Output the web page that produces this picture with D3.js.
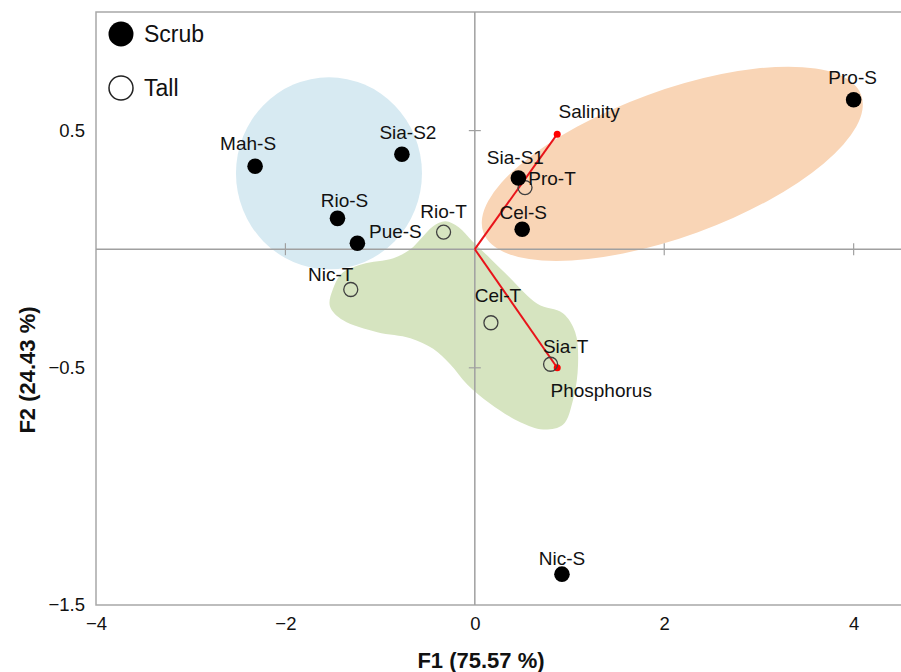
<!DOCTYPE html>
<html>
<head>
<meta charset="utf-8">
<script src="https://cdn.jsdelivr.net/npm/d3@7"></script>
<style>
  body { margin: 0; background: #fff; }
  text { font-family: "Liberation Sans", Arial, sans-serif; fill: #111; }
</style>
</head>
<body>
<svg id="chart" width="901" height="672"></svg>
<script>
// ---- data ----
const scrubNames = ["Mah-S", "Sia-S2", "Rio-S", "Pue-S", "Sia-S1", "Cel-S", "Pro-S", "Nic-S"];
const scrubF1 = [-2.32, -0.77, -1.45, -1.24, 0.46, 0.50, 4.00, 0.92];
const scrubF2 = [0.35, 0.40, 0.13, 0.025, 0.30, 0.084, 0.63, -1.37];

const tallNames = ["Rio-T", "Nic-T", "Pro-T", "Cel-T", "Sia-T"];
const tallF1 = [-0.33, -1.31, 0.53, 0.17, 0.80];
const tallF2 = [0.072, -0.17, 0.26, -0.31, -0.485];

const vectorNames = ["Salinity", "Phosphorus"];
const vectorF1 = [0.87, 0.87];
const vectorF2 = [0.485, -0.50];

const xTickValues = [-4, -2, 0, 2, 4];
const yTickValues = [-1.5, -0.5, 0.5];

// green group outline (data units)
const greenF1 = [-0.44, -0.31, -0.17, -0.026, 0.16, 0.37, 0.66, 0.93, 1.06, 1.09, 1.04, 0.93, 0.72, 0.48, 0.16, -0.08, -0.26, -0.44, -0.68, -1.03, -1.39, -1.53, -1.50, -1.40, -1.19, -0.86, -0.68, -0.575];
const greenF2 = [0.097, 0.118, 0.093, 0.034, -0.038, -0.12, -0.23, -0.27, -0.35, -0.485, -0.63, -0.74, -0.76, -0.73, -0.65, -0.57, -0.485, -0.42, -0.375, -0.35, -0.30, -0.24, -0.17, -0.10, -0.063, -0.038, 0.0, 0.042];
// blue and orange group centres (data units)
const blueCentre = [-1.54, 0.32];
const orangeCentre = [2.085, 0.36];

// ---- layout ----
const W = 901, H = 672;
const mLeft = 96, mRight = 901, mTop = 12, mBottom = 605;

const svg = d3.select("#chart");

const x = d3.scaleLinear().domain([-4, 4.5]).range([mLeft, mRight]);
const y = d3.scaleLinear().domain([-1.5, 1.0]).range([mBottom, mTop]);

// label offsets in pixels (dx, dy of label centre)
const labelOffset = {
  "Mah-S": [-7, -23], "Sia-S2": [6, -22], "Rio-S": [7, -18], "Pue-S": [38, -12],
  "Sia-S1": [-3, -21], "Cel-S": [1, -17], "Pro-S": [-1, -22], "Nic-S": [0, -16],
  "Rio-T": [0, -21], "Nic-T": [-20, -15], "Pro-T": [27, -9], "Cel-T": [7, -27],
  "Sia-T": [15, -18], "Salinity": [32, -23], "Phosphorus": [44, 23]
};

// ---- group shapes ----
const greenPts = greenF1.map((v, i) => [x(v), y(greenF2[i])]);
svg.append("path")
  .attr("d", d3.line().curve(d3.curveCatmullRomClosed.alpha(0.5))(greenPts))
  .attr("fill", "#d6e4c0");

svg.append("ellipse")
  .attr("cx", x(blueCentre[0])).attr("cy", y(blueCentre[1]))
  .attr("rx", 93).attr("ry", 96)
  .attr("fill", "#d7eaf2");

svg.append("ellipse")
  .attr("cx", 0).attr("cy", 0)
  .attr("rx", 201).attr("ry", 73)
  .attr("transform", `translate(${x(orangeCentre[0])},${y(orangeCentre[1])}) rotate(-20)`)
  .attr("fill", "#f9d5b6");

// ---- frame ----
svg.append("path")
  .attr("d", `M${mRight + 2},${mTop}H${mLeft}V${mBottom}H${mRight + 2}`)
  .attr("fill", "none").attr("stroke", "#a8a8a8").attr("stroke-width", 1.5);

// centre lines with crossing tick marks
const gray = "#a0a0a0";
svg.append("line").attr("x1", mLeft).attr("x2", mRight).attr("y1", y(0)).attr("y2", y(0))
  .attr("stroke", gray).attr("stroke-width", 1.5);
svg.append("line").attr("x1", x(0)).attr("x2", x(0)).attr("y1", mTop).attr("y2", mBottom)
  .attr("stroke", gray).attr("stroke-width", 1.5);

svg.selectAll(".xcross").data(xTickValues.filter(d => d !== 0 && d !== -4)).join("line")
  .attr("x1", d => x(d)).attr("x2", d => x(d))
  .attr("y1", y(0) - 6).attr("y2", y(0) + 6)
  .attr("stroke", gray).attr("stroke-width", 1.2);
svg.selectAll(".ycross").data(yTickValues.filter(d => d !== -1.5)).join("line")
  .attr("x1", x(0) - 6).attr("x2", x(0) + 6)
  .attr("y1", d => y(d)).attr("y2", d => y(d))
  .attr("stroke", gray).attr("stroke-width", 1.2);

// tick labels via d3 axes (no lines)
const fmt = d => d3.format("")(d).replace("-", "\u2212");
const xAxis = svg.append("g")
  .attr("transform", `translate(0,${mBottom})`)
  .call(d3.axisBottom(x).tickValues(xTickValues).tickSize(0).tickPadding(12).tickFormat(fmt));
const yAxis = svg.append("g")
  .attr("transform", `translate(${mLeft},0)`)
  .call(d3.axisLeft(y).tickValues(yTickValues).tickSize(0).tickPadding(11).tickFormat(fmt));
[xAxis, yAxis].forEach(g => {
  g.select(".domain").remove();
  g.attr("font-size", null).attr("font-family", null);
  g.selectAll("text").attr("font-size", 18.5).attr("fill", "#111");
});

// axis titles
svg.append("text").attr("x", 481).attr("y", 668).attr("text-anchor", "middle")
  .attr("font-size", 22).attr("font-weight", "bold").text("F1 (75.57 %)");
svg.append("text").attr("transform", "translate(35,370) rotate(-90)").attr("text-anchor", "middle")
  .attr("font-size", 22).attr("font-weight", "bold").text("F2 (24.43 %)");

// ---- variable vectors ----
const vectors = vectorNames.map((n, i) => ({ name: n, f1: vectorF1[i], f2: vectorF2[i] }));
svg.selectAll(".vec").data(vectors).join("line")
  .attr("x1", x(0)).attr("y1", y(0))
  .attr("x2", d => x(d.f1)).attr("y2", d => y(d.f2))
  .attr("stroke", "#e8141a").attr("stroke-width", 2);
svg.selectAll(".vecdot").data(vectors).join("circle")
  .attr("cx", d => x(d.f1)).attr("cy", d => y(d.f2)).attr("r", 3.5)
  .attr("fill", "#ff0000");

// ---- points ----
const scrub = scrubNames.map((n, i) => ({ name: n, f1: scrubF1[i], f2: scrubF2[i] }));
const tall = tallNames.map((n, i) => ({ name: n, f1: tallF1[i], f2: tallF2[i] }));

svg.selectAll(".tall").data(tall).join("circle")
  .attr("cx", d => x(d.f1)).attr("cy", d => y(d.f2)).attr("r", 7)
  .attr("fill", "none").attr("stroke", "#404040").attr("stroke-width", 1.3);
svg.selectAll(".scrub").data(scrub).join("circle")
  .attr("cx", d => x(d.f1)).attr("cy", d => y(d.f2)).attr("r", 7.8)
  .attr("fill", "#000");

// ---- labels ----
svg.selectAll(".lbl").data([...scrub, ...tall, ...vectors]).join("text")
  .attr("x", d => x(d.f1) + labelOffset[d.name][0])
  .attr("y", d => y(d.f2) + labelOffset[d.name][1])
  .attr("dy", "0.35em").attr("text-anchor", "middle")
  .attr("font-size", 19)
  .text(d => d.name);

// ---- legend ----
const legend = svg.append("g");
legend.append("circle").attr("cx", 121).attr("cy", 34).attr("r", 12.5).attr("fill", "#000");
legend.append("circle").attr("cx", 121).attr("cy", 88).attr("r", 12)
  .attr("fill", "#fff").attr("stroke", "#222").attr("stroke-width", 1.5);
legend.append("text").attr("x", 144).attr("y", 34).attr("dy", "0.35em").attr("font-size", 23).text("Scrub");
legend.append("text").attr("x", 144).attr("y", 88).attr("dy", "0.35em").attr("font-size", 23).text("Tall");
</script>
</body>
</html>
